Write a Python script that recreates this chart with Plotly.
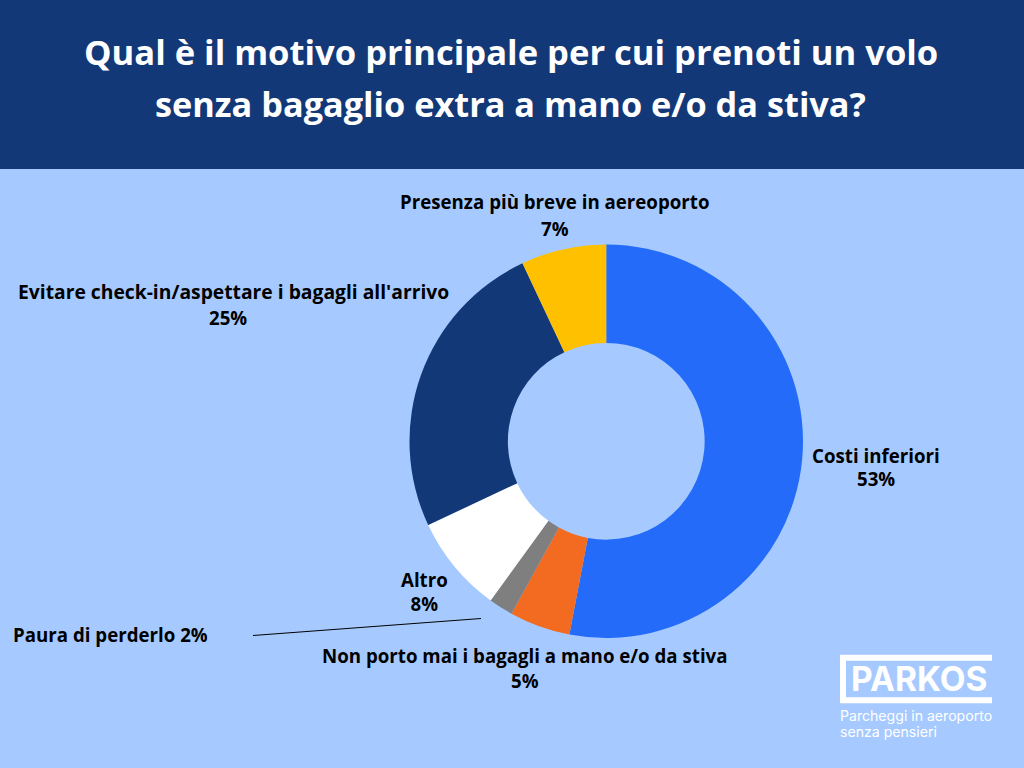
import plotly.graph_objects as go

labels = [
    "Costi inferiori",
    "Non porto mai i bagagli a mano e/o da stiva",
    "Paura di perderlo",
    "Altro",
    "Evitare check-in/aspettare i bagagli all'arrivo",
    "Presenza più breve in aereoporto",
]
values = [53, 5, 2, 8, 25, 7]
colors = ["#236BF8", "#F26B21", "#7F7F7F", "#FFFFFF", "#133878", "#FFC000"]
title_lines = [
    "Qual è il motivo principale per cui prenoti un volo",
    "senza bagaglio extra a mano e/o da stiva?",
]

W, H = 1024, 768
BG = "#A6CAFF"
NAVY = "#133878"
FONT = "Open Sans"


def fx(x):
    return x / W


def fy(y):
    return 1 - y / H


def text(x, y, s, size=18.7, color="black", weight=700, family=FONT, xanchor="center"):
    return dict(
        x=fx(x), y=fy(y), xref="paper", yref="paper", text=s, showarrow=False,
        xanchor=xanchor, yanchor="middle",
        font=dict(size=size, color=color, family=family, weight=weight),
    )


fig = go.Figure(go.Pie(
    labels=labels,
    values=values,
    sort=False,
    direction="clockwise",
    rotation=0,
    hole=0.5,
    marker=dict(colors=colors, line=dict(width=0)),
    textinfo="none",
    showlegend=False,
    domain=dict(x=[fx(409.5), fx(803)], y=[fy(638), fy(244.5)]),
))

annotations = [
    text(511, 51.5, title_lines[0], size=34.6, color="white"),
    text(510, 103.5, title_lines[1], size=34.3, color="white"),
]

# label line positions: name y, percent y, centre x
annotations += [
    text(876, 455.5, labels[0]), text(876, 478.5, f"{values[0]}%"),
    text(525, 655.5, labels[1]), text(525, 680.5, f"{values[1]}%"),
    text(11, 634.5, f"{labels[2]} {values[2]}%", xanchor="left"),
    text(424, 591.5, f"{labels[3]}<br>{values[3]}%"),
    text(233.5, 291.5, labels[4], size=19.3), text(228, 317.5, f"{values[4]}%"),
    text(555, 201.5, labels[5]), text(555, 228.5, f"{values[5]}%"),
]

# logo
annotations += [
    text(919, 679, "PARKOS", size=33.5, color="white", weight=700, family="Inter"),
    text(838, 716, "Parcheggi in aeroporto", size=14.1, color="white", weight=400,
         family="Inter", xanchor="left"),
    text(838, 731, "senza pensieri", size=14.1, color="white", weight=400,
         family="Inter", xanchor="left"),
]

shapes = [
    dict(type="rect", xref="paper", yref="paper", x0=0, x1=1, y0=fy(169), y1=1,
         fillcolor=NAVY, line=dict(width=0), layer="below"),
    dict(type="line", xref="paper", yref="paper", x0=fx(253), y0=fy(635.5),
         x1=fx(481), y1=fy(618.5), line=dict(color="black", width=1)),
    dict(type="path", xref="paper", yref="paper",
         path=f"M {fx(992)} {fy(657.7)} L {fx(843)} {fy(657.7)} L {fx(843)} {fy(700.3)} L {fx(992)} {fy(700.3)}",
         line=dict(color="white", width=6)),
]

fig.update_layout(
    width=W,
    height=H,
    margin=dict(l=0, r=0, t=0, b=0),
    paper_bgcolor=BG,
    plot_bgcolor=BG,
    annotations=annotations,
    shapes=shapes,
)

fig.write_html("out.html", config=dict(displayModeBar=False),
               post_script="document.body.style.margin='0';")
